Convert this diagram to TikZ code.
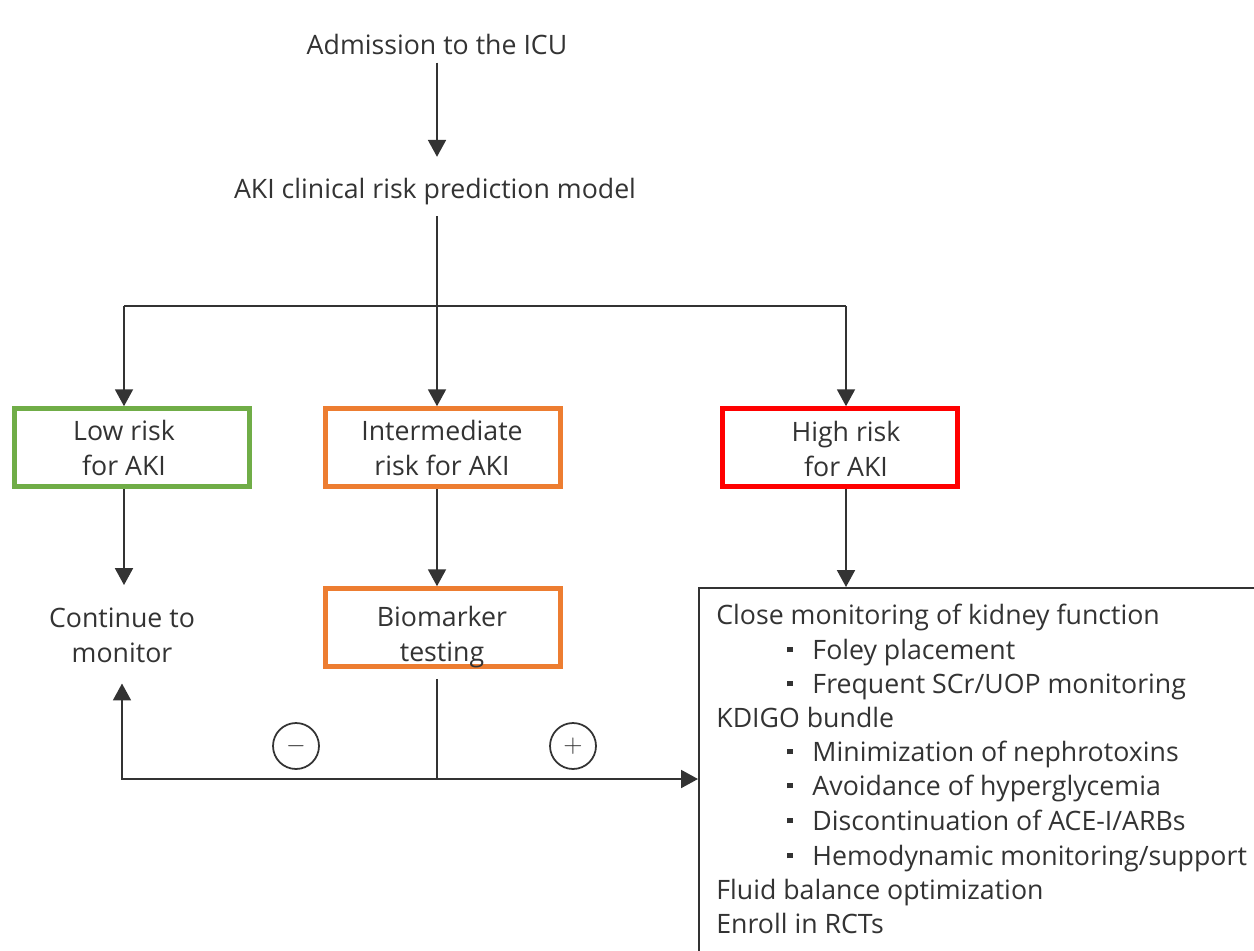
\documentclass[tikz,border=0pt]{standalone}
\usepackage{fontspec}
\setmainfont{Open Sans}
\usetikzlibrary{arrows.meta}
\definecolor{ink}{HTML}{333333}
\definecolor{lowrisk}{HTML}{70AD47}
\definecolor{midrisk}{HTML}{ED7D31}
\definecolor{highrisk}{HTML}{FF0000}
% small square bullet for the list items
\newcommand\bul{\rule[3.8pt]{3pt}{3pt}\hspace{11.3pt}}

\begin{document}
\begin{tikzpicture}[x=0.02cm, y=-0.02cm,
  every node/.style={font=\fontsize{15.2}{19.45}\selectfont, text=ink},
  lbl/.style={inner sep=0pt, align=center, anchor=base},
  row/.style={inner sep=0pt, anchor=base west},
  riskbox/.style={draw=#1, line width=2.6pt, minimum width=4.7cm, minimum height=1.56cm, inner sep=0pt},
  flow/.style={draw=ink, line width=1.1pt},
  arr/.style={flow, -{Triangle[length=9.6pt, width=10.2pt]}},
  sign/.style={circle, draw=ink, line width=1pt, minimum size=0.92cm, inner sep=0pt, font=\fontsize{14}{16}\selectfont}]
\useasboundingbox (0,0) rectangle (1254,950);
\clip (0,0) rectangle (1254,950);

% header texts
\node[lbl] (adm) at (437,54) {Admission to the ICU};
\node[lbl] (model) at (435,198) {AKI clinical risk prediction model};

% branching points
\coordinate (lsplit) at (124,306);
\coordinate (csplit) at (437,306);
\coordinate (rsplit) at (846,306);
\coordinate (junc) at (437,779);

% risk boxes
\node[riskbox=lowrisk] (low) at (132,447.5) {};
\node[riskbox=midrisk] (mid) at (443,447.5) {};
\node[riskbox=highrisk] (high) at (840,447.5) {};
\node[riskbox=midrisk] (bio) at (443,627.5) {};

% box captions (anchored at the baseline of their last line)
\node[lbl] (lowtxt) at (124,475) {Low risk\\for AKI};
\node[lbl] (midtxt) at (442,475) {Intermediate\\risk for AKI};
\node[lbl] (hightxt) at (846,476) {High risk\\for AKI};
\node[lbl] (biotxt) at (442,661) {Biomarker\\testing};
\node[lbl] (cont) at (122,662) {Continue to\\monitor};

% management box, running off the page
\node[draw=ink, line width=1.1pt, anchor=north west, minimum width=12cm,
      minimum height=8cm, inner sep=0pt] (act) at (698,587) {};
\node[row] (r1) at (716,624) {Close monitoring of kidney function};
\node[row] (r2) at (787,659) {\bul Foley placement};
\node[row] (r3) at (787,693) {\bul Frequent SCr/UOP monitoring};
\node[row] (r4) at (716,727) {KDIGO bundle};
\node[row] (r5) at (787,761) {\bul Minimization of nephrotoxins};
\node[row] (r6) at (787,795) {\bul Avoidance of hyperglycemia};
\node[row] (r7) at (787,830) {\bul Discontinuation of ACE-I/ARBs};
\node[row] (r8) at (787,865) {\bul Hemodynamic monitoring/support};
\node[row] (r9) at (716,899) {Fluid balance optimization};
\node[row] (r10) at (716,933) {Enroll in RCTs};

% biomarker result signs
\node[sign] (neg) at (296,746) {$-$};
\node[sign] (pos) at (573,746) {$+$};

% connectors
\draw[arr, shorten <=4.5pt, shorten >=11.7pt] (adm.south -| csplit) -- (model.north -| csplit);
\draw[flow, shorten <=6.6pt] (model.south -| csplit) -- (csplit);
\draw[flow] (lsplit) -- (rsplit);
\draw[arr] (lsplit) -- (lsplit |- low.north);
\draw[arr] (csplit) -- (csplit |- mid.north);
\draw[arr] (rsplit) -- (rsplit |- high.north);
\draw[arr, shorten >=13pt] (low.south -| lsplit) -- (lsplit |- cont.north);
\draw[arr] (mid.south -| csplit) -- (csplit |- bio.north);
\draw[arr] (high.south -| rsplit) -- (rsplit |- act.north);
\draw[flow, shorten <=5.7pt] (bio.south -| junc) -- (junc);
\draw[arr] (junc) -- (junc -| act.west);
\draw[arr, shorten >=11.9pt] (junc) -| (cont.south);
\end{tikzpicture}
\end{document}
